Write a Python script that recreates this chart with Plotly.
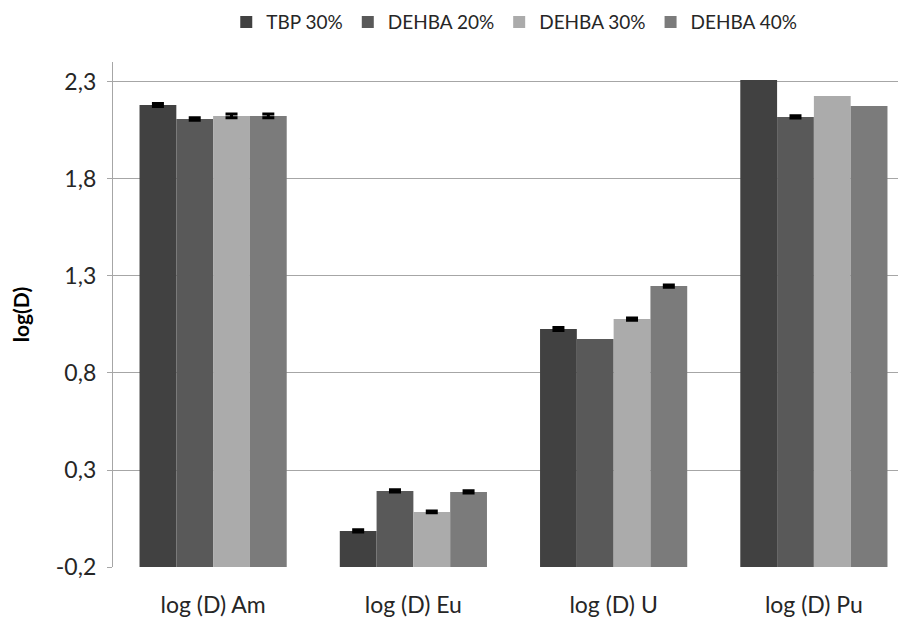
import plotly.graph_objects as go

categories = ["log (D) Am", "log (D) Eu", "log (D) U", "log (D) Pu"]
series_names = ["TBP 30%", "DEHBA 20%", "DEHBA 30%", "DEHBA 40%"]
tbp30 = [2.181, -0.014, 1.027, 2.31]
dehba20 = [2.109, 0.192, 0.975, 2.12]
dehba30 = [2.125, 0.084, 1.078, 2.228]
dehba40 = [2.125, 0.187, 1.248, 2.176]
# None = no error bar shown for that bar
err_tbp30 = [0.008, 0.006, 0.008, None]
err_dehba20 = [0.006, 0.006, None, 0.006]
err_dehba30 = [0.010, 0.005, 0.006, None]
err_dehba40 = [0.010, 0.006, 0.006, None]
tick_vals = [-0.2, 0.3, 0.8, 1.3, 1.8, 2.3]
tick_text = ["-0,2", "0,3", "0,8", "1,3", "1,8", "2,3"]
axis_min = -0.2

colors = ["#414141", "#595959", "#ababab", "#7b7b7b"]
values = [tbp30, dehba20, dehba30, dehba40]
errors = [err_tbp30, err_dehba20, err_dehba30, err_dehba40]

fig = go.Figure()
for name, vals, errs, col in zip(series_names, values, errors, colors):
    fig.add_trace(go.Bar(
        x=categories, y=[v - axis_min for v in vals], base=axis_min, name=name,
        marker=dict(color=col, line=dict(width=0)),
        error_y=dict(type="data", array=[("NaN" if e is None else e) for e in errs],
                     visible=True, color="black", thickness=3, width=6),
    ))

font_family = "Lato, 'Open Sans', sans-serif"
fig.update_layout(
    width=906, height=622,
    barmode="group", bargap=0.265, bargroupgap=0,
    plot_bgcolor="white", paper_bgcolor="white",
    margin=dict(l=105, r=8, t=54, b=63, autoexpand=False),
    font=dict(family=font_family, size=19, color="#262626"),
    legend=dict(orientation="h", x=0.506, xanchor="center", y=1.079, yanchor="middle",
                font=dict(size=19, color="#262626"),
                itemwidth=30, traceorder="normal"),
    xaxis=dict(range=[-0.5, 3.46], showgrid=False, ticks="", automargin=False,
               ticklabelstandoff=22,
               tickfont=dict(size=23, color="#262626"), showline=False),
    yaxis=dict(range=[axis_min, 2.403], tickvals=tick_vals, ticktext=tick_text,
               automargin=False,
               showgrid=True, gridcolor="#a6a6a6", gridwidth=1.3,
               zeroline=False, showline=True, linecolor="#a6a6a6", linewidth=1.3,
               ticks="outside", ticklen=5, tickcolor="#a6a6a6",
               ticklabelstandoff=6,
               tickfont=dict(size=23, color="#262626"),
               title=dict(text="<b>log(D)</b>", font=dict(size=21, color="#000000"), standoff=32)),
)

fig.write_html("out.html")
